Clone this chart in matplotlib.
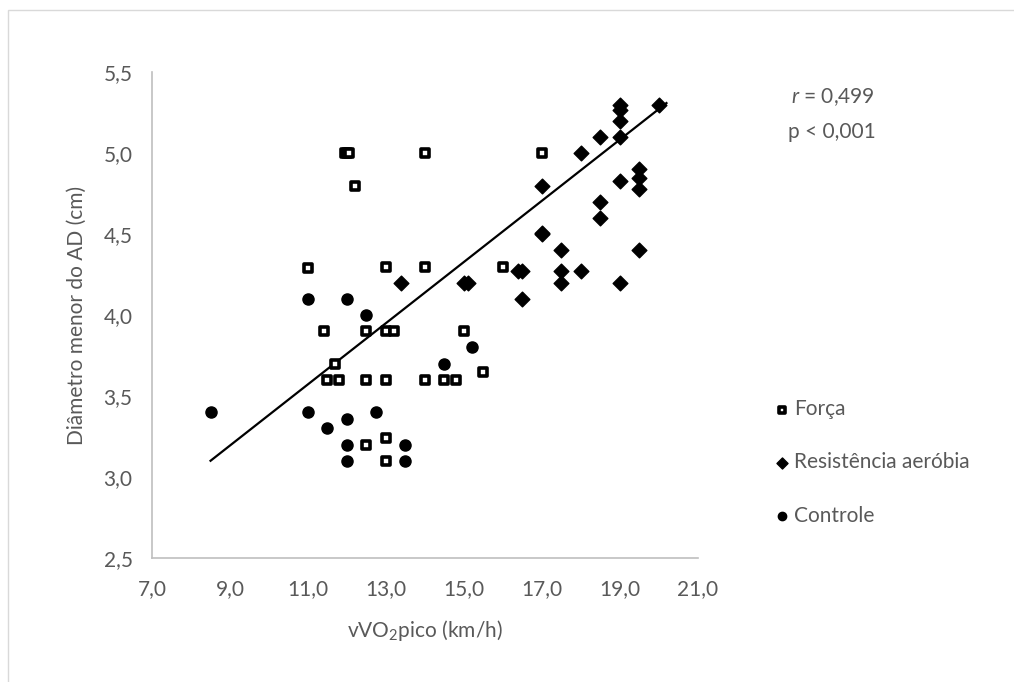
import matplotlib.pyplot as plt
import matplotlib.ticker as mticker
from matplotlib.patches import Rectangle
import numpy as np

plt.rcParams['font.family'] = ['Lato', 'DejaVu Sans']
plt.rcParams['mathtext.fontset'] = 'custom'
plt.rcParams['mathtext.rm'] = 'Lato'
plt.rcParams['mathtext.it'] = 'Lato:italic'

GREY = '#595959'

# Força (squares)
forca_x = [11.95, 12.0, 12.05, 14.0, 17.0, 12.2, 11.0, 13.0, 14.0, 16.0,
           11.4, 12.5, 13.0, 13.2, 15.0, 11.7, 11.5, 11.8, 12.5, 13.0,
           14.0, 14.5, 14.8, 15.5, 12.5, 13.0, 13.0]
forca_y = [5.0, 5.0, 5.0, 5.0, 5.0, 4.8, 4.29, 4.3, 4.3, 4.3,
           3.9, 3.9, 3.9, 3.9, 3.9, 3.7, 3.6, 3.6, 3.6, 3.6,
           3.6, 3.6, 3.6, 3.65, 3.2, 3.24, 3.1]

# Resistência aeróbia (diamonds)
resist_x = [13.4, 15.0, 15.1, 16.4, 16.5, 16.5, 17.0, 17.0, 17.0, 17.5,
            17.5, 17.5, 18.0, 18.0, 18.5, 18.5, 18.5, 19.0, 19.0, 19.0,
            19.0, 19.0, 19.0, 19.5, 19.5, 19.5, 19.5, 20.0]
resist_y = [4.2, 4.2, 4.2, 4.27, 4.27, 4.1, 4.8, 4.5, 4.51, 4.4,
            4.27, 4.2, 4.27, 5.0, 5.1, 4.7, 4.6, 5.3, 5.27, 5.2,
            5.1, 4.83, 4.2, 4.9, 4.85, 4.78, 4.4, 5.3]

# Controle (circles)
ctrl_x = [8.5, 11.0, 12.0, 12.5, 11.0, 11.5, 12.0, 12.75, 12.0, 12.0,
          13.5, 13.5, 14.5, 15.2]
ctrl_y = [3.4, 4.1, 4.1, 4.0, 3.4, 3.3, 3.36, 3.4, 3.2, 3.1,
          3.2, 3.1, 3.7, 3.8]

# trend line end points as drawn in the original
trend_x = [8.5, 20.2]
trend_y = [3.1, 5.31]

fig = plt.figure(figsize=(10.14, 6.82), dpi=100)
ax = fig.add_axes([0.150, 0.182, 0.538, 0.712])

ax.scatter(forca_x, forca_y, marker='s', s=34, facecolor='white',
           edgecolor='black', linewidths=2.6, label='Força', zorder=3)
ax.scatter(resist_x, resist_y, marker='D', s=56, color='black',
           label='Resistência aeróbia', zorder=3)
ax.scatter(ctrl_x, ctrl_y, marker='o', s=64, color='black',
           label='Controle', zorder=3)

ax.plot(trend_x, trend_y, color='black', lw=1.6, zorder=2)

ax.set_xlim(7, 21)
ax.set_ylim(2.5, 5.5)
ax.set_xticks(np.arange(7, 21.1, 2))
ax.set_yticks(np.arange(2.5, 5.51, 0.5))
fmt = mticker.FuncFormatter(lambda v, p: f'{v:.1f}'.replace('.', ','))
ax.xaxis.set_major_formatter(fmt)
ax.yaxis.set_major_formatter(fmt)
ax.tick_params(length=0, labelsize=15, colors=GREY)
ax.tick_params(axis='y', pad=14)
ax.tick_params(axis='x', pad=15)
for side in ['top', 'right']:
    ax.spines[side].set_visible(False)
for side in ['left', 'bottom']:
    ax.spines[side].set_color('#BFBFBF')
    ax.spines[side].set_linewidth(1.2)

ax.set_xlabel('vVO$_\\mathregular{2}$pico (km/h)', fontsize=15, color=GREY, labelpad=14)
ax.set_ylabel('Diâmetro menor do AD (cm)', fontsize=15, color=GREY, labelpad=12)

fig.text(0.780, 0.857, '$\\mathit{r}$ = 0,499', fontsize=15, color=GREY, va='center')
fig.text(0.777, 0.806, 'p < 0,001', fontsize=15, color=GREY, va='center')

leg = fig.legend(loc='upper left', bbox_to_anchor=(0.755, 0.430), frameon=False,
                 fontsize=15, labelcolor=GREY, handlelength=0.6,
                 handletextpad=0.25, labelspacing=1.6, markerscale=0.75,
                 borderpad=0)

# outer chart border
fig.patches.append(Rectangle((8 / 1014, -0.1), 1.2, 1.1 - 10 / 682,
                             transform=fig.transFigure, fill=False,
                             edgecolor='#D9D9D9', lw=1.0))

fig.savefig('out.png', dpi=100)
